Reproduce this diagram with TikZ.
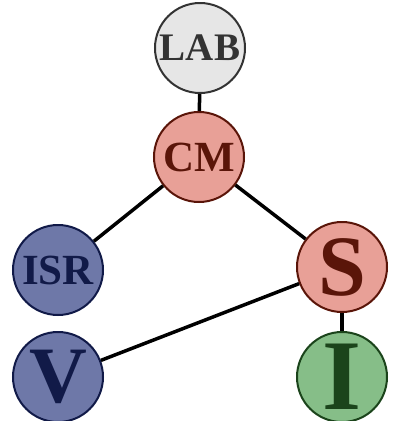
\documentclass[tikz,border=0pt]{standalone}
\usepackage{fontspec}
\setmainfont{Liberation Serif}
\usepackage{tikz}
\usetikzlibrary{positioning}
\usetikzlibrary{shapes.geometric}

\definecolor{labfill}{HTML}{E6E6E6}
\definecolor{labline}{HTML}{333333}
\definecolor{redfill}{HTML}{E8A097}
\definecolor{redline}{HTML}{5A1509}
\definecolor{bluefill}{HTML}{6E78A8}
\definecolor{blueline}{HTML}{111A48}
\definecolor{greenfill}{HTML}{86BE88}
\definecolor{greenline}{HTML}{1B441B}

\tikzset{
ball/.style={circle, minimum size=90pt, inner sep=0pt, line width=2pt, font=\bfseries},
labball/.style={ball, draw=labline, fill=labfill, text=labline},
redball/.style={ball, draw=redline, fill=redfill, text=redline},
blueball/.style={ball, draw=blueline, fill=bluefill, text=blueline},
greenball/.style={ball, draw=greenline, fill=greenfill, text=greenline},
link/.style={line width=3.5pt, black}
}

\begin{document}
\begin{tikzpicture}[x=1pt,y=-1pt]
\useasboundingbox (0,0) rectangle (394,421);
\node[labball] (lab) at (200,48) {\fontsize{39}{39}\selectfont LAB};
\node[redball] (cm) at (199,157) {\fontsize{43}{43}\selectfont CM};
\node[blueball] (isr) at (58,270) {\fontsize{43}{43}\selectfont ISR};
\node[redball] (s) at (342,267) {\fontsize{86}{86}\selectfont S};
\node[blueball] (v) at (58,377) {\fontsize{80}{80}\selectfont V};
\node[greenball] (i) at (342,377) {\fontsize{100}{100}\selectfont I};
\draw[link] (lab) -- (cm);
\draw[link] (cm) -- (isr);
\draw[link] (cm) -- (s);
\draw[link] (s) -- (v);
\draw[link] (s) -- (i);
\end{tikzpicture}
\end{document}
